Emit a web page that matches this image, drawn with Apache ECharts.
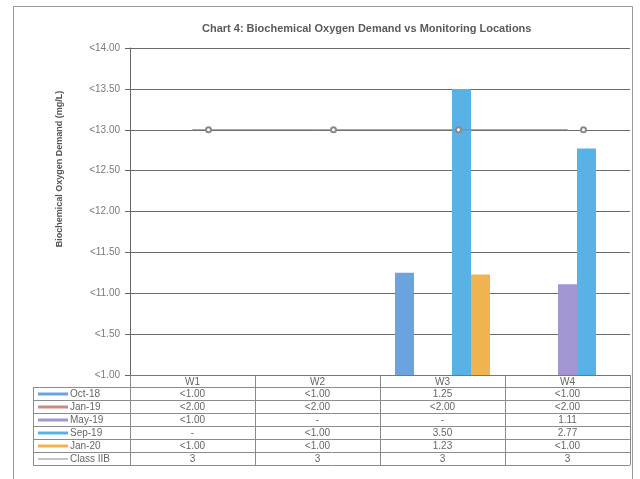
<!DOCTYPE html>
<html>
<head>
<meta charset="utf-8">
<script src="https://cdn.jsdelivr.net/npm/echarts@6/dist/echarts.min.js"></script>
<style>
  html, body { margin: 0; padding: 0; background: #fff; }
  #main { width: 640px; height: 479px; }
</style>
</head>
<body>
<div id="main"></div>
<script>
// monitoring locations
const locations = ['W1', 'W2', 'W3', 'W4']

// table text as printed; numeric entries become bars
const oct18 = ['<1.00', '<1.00', '1.25', '<1.00']
const jan19 = ['<2.00', '<2.00', '<2.00', '<2.00']
const may19 = ['<1.00', '-', '-', '1.11']
const sep19 = ['-', '<1.00', '3.50', '2.77']
const jan20 = ['<1.00', '<1.00', '1.23', '<1.00']
const classIIB = [3, 3, 3, 3]

const seriesNames = ['Oct-18', 'Jan-19', 'May-19', 'Sep-19', 'Jan-20']
const seriesColors = ['#6aa3de', '#c98a88', '#a394d2', '#58b2e6', '#efb451']

// y tick labels as they appear on the chart (0 .. 4 step 0.5)
const yTickLabels = ['<1.00', '<1.50', '<11.00', '<11.50', '<12.00', '<12.50', '<13.00', '<13.50', '<14.00']

const tableRows = [oct18, jan19, may19, sep19, jan20]

function toValue(s) {
  if (s.indexOf('<') >= 0 || s === '-') return null
  return parseFloat(s)
}

const chartDom = document.getElementById('main')
const myChart = echarts.init(chartDom)

const gridLeft = 130
const gridRight = 10
const gridTop = 48
const gridBottom = 104
const font = 'Liberation Sans, Arial, sans-serif'

const barSeries = seriesNames.map((name, i) => ({
  name: name,
  type: 'bar',
  data: tableRows[i].map(toValue),
  barGap: '0%',
  barCategoryGap: '24%',
  itemStyle: { color: seriesColors[i] },
  silent: true
}))

myChart.setOption({
  animation: false,
  textStyle: { fontFamily: font },
  title: {
    text: 'Chart 4: Biochemical Oxygen Demand vs Monitoring Locations',
    left: 197,
    top: 18,
    textStyle: { fontSize: 11, fontWeight: 'bold', color: '#5a5a5a' }
  },
  grid: { left: gridLeft, right: gridRight, top: gridTop, bottom: gridBottom },
  xAxis: {
    type: 'category',
    data: locations,
    axisLabel: { show: false },
    axisTick: { show: false },
    axisLine: { lineStyle: { color: '#777' } }
  },
  yAxis: {
    type: 'value',
    min: 0,
    max: 4,
    interval: 0.5,
    axisLine: { show: true, lineStyle: { color: '#666' } },
    axisTick: { show: true, length: 5, lineStyle: { color: '#666' } },
    axisLabel: {
      color: '#7a7a7a',
      fontSize: 10,
      margin: 10,
      formatter: v => yTickLabels[Math.round(v / 0.5)]
    },
    splitLine: { lineStyle: { color: '#6a6a6a', width: 1 } }
  },
  series: barSeries.concat([{
    name: 'Class IIB',
    type: 'line',
    data: classIIB,
    symbol: 'emptyCircle',
    symbolSize: 5,
    symbolOffset: [16, 0],
    lineStyle: { color: '#8a8a8a', width: 1 },
    itemStyle: { color: '#8a8a8a' },
    silent: true,
    z: 5
  }])
})

// data table under the plot, built from the same arrays
function buildTable() {
  const w = myChart.getWidth()
  const h = myChart.getHeight()
  const plotLeft = gridLeft
  const plotRight = w - gridRight
  const top = h - gridBottom
  const colW = (plotRight - plotLeft) / locations.length
  const rowH = 13
  const headH = 12
  const tableLeft = 33
  const lineColor = '#8c8c8c'
  const textColor = '#666'
  const els = []

  const allRows = tableRows.concat([classIIB.map(String)])
  const allNames = seriesNames.concat(['Class IIB'])
  const bottom = top + headH + rowH * allRows.length

  // y axis title, placed where the original has it
  els.push({
    type: 'text',
    x: 60,
    y: 169,
    rotation: Math.PI / 2,
    style: {
      text: 'Biochemical Oxygen Demand (mg/L)', align: 'center', verticalAlign: 'middle',
      fontSize: 9, fontWeight: 'bold', fill: '#555', fontFamily: font
    }
  })

  // header row
  locations.forEach((loc, i) => {
    els.push({
      type: 'text',
      style: {
        text: loc, x: plotLeft + colW * (i + 0.5), y: top + headH / 2 + 1,
        align: 'center', verticalAlign: 'middle', fontSize: 10, fill: textColor, fontFamily: font
      }
    })
  })

  // horizontal lines
  els.push({ type: 'line', shape: { x1: plotLeft, y1: top + 0.5, x2: plotRight, y2: top + 0.5 }, style: { stroke: lineColor } })
  for (let r = 0; r <= allRows.length; r++) {
    const y = Math.round(top + headH + rowH * r) + 0.5
    els.push({ type: 'line', shape: { x1: tableLeft, y1: y, x2: plotRight, y2: y }, style: { stroke: lineColor } })
  }
  // vertical lines
  for (let c = 0; c <= locations.length; c++) {
    const x = Math.round(plotLeft + colW * c) + 0.5
    els.push({ type: 'line', shape: { x1: x, y1: top, x2: x, y2: bottom }, style: { stroke: lineColor } })
  }
  els.push({ type: 'line', shape: { x1: tableLeft + 0.5, y1: top + headH, x2: tableLeft + 0.5, y2: bottom }, style: { stroke: lineColor } })

  // rows
  allRows.forEach((row, r) => {
    const cy = top + headH + rowH * (r + 0.5) + 0.5
    const isLine = r === seriesNames.length
    if (isLine) {
      els.push({ type: 'line', shape: { x1: 38, y1: cy, x2: 68, y2: cy }, style: { stroke: '#8a8a8a', lineWidth: 1 } })
    } else {
      els.push({ type: 'rect', shape: { x: 38, y: cy - 1.5, width: 30, height: 3 }, style: { fill: seriesColors[r] } })
    }
    els.push({
      type: 'text',
      style: {
        text: allNames[r], x: 70, y: cy, align: 'left', verticalAlign: 'middle',
        fontSize: 10, fill: textColor, fontFamily: font
      }
    })
    row.forEach((cell, c) => {
      els.push({
        type: 'text',
        style: {
          text: cell, x: plotLeft + colW * (c + 0.5), y: cy, align: 'center', verticalAlign: 'middle',
          fontSize: 10, fill: textColor, fontFamily: font
        }
      })
    })
  })

  // outer frame
  els.push({ type: 'rect', shape: { x: 13.5, y: 6.5, width: 619, height: h }, style: { fill: 'none', stroke: '#999', lineWidth: 1 } })

  myChart.setOption({ graphic: els })
}

buildTable()
</script>
</body>
</html>
